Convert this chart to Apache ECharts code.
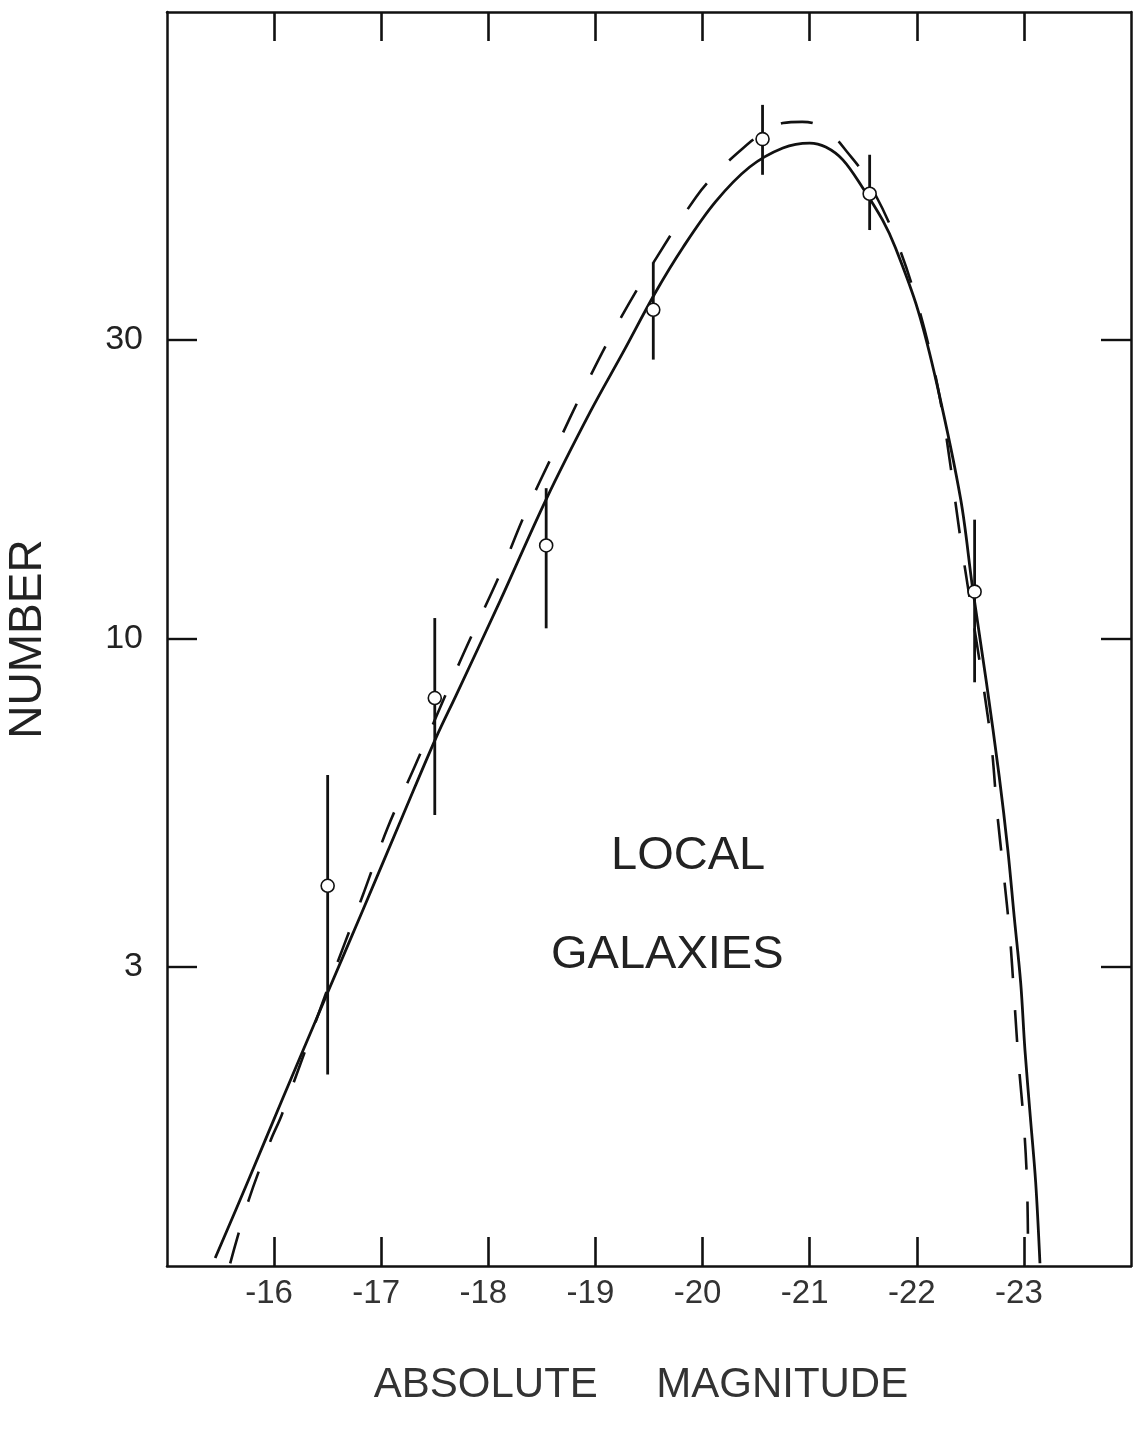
<!DOCTYPE html>
<html>
<head>
<meta charset="utf-8">
<title>Local Galaxies – luminosity function</title>
<script src="https://cdn.jsdelivr.net/npm/echarts@6/dist/echarts.min.js"></script>
<style>
  html, body { margin: 0; padding: 0; background: #fff; }
  #chart { width: 1134px; height: 1430px; }
</style>
</head>
<body>
<div id="chart"></div>
<script>
// Tick positions
const magTicks = [-16, -17, -18, -19, -20, -21, -22, -23];
const numberTicks = [3, 10, 30];

// Smooth fitted curve (solid)
const solidMag = [-15.45, -15.76, -16.08, -16.48, -16.83, -17.20, -17.51, -17.70, -18.11, -18.54,
  -18.95, -19.26, -19.56, -19.82, -20.12, -20.44, -20.75, -21.00, -21.15, -21.31,
  -21.49, -21.68, -21.80, -22.01, -22.19, -22.41, -22.52, -22.65, -22.77, -22.85,
  -22.91, -22.97, -23.01, -23.06, -23.11, -23.15];
const solidNum = [1.03, 1.37, 1.85, 2.68, 3.70, 5.22, 6.95, 8.14, 11.5, 16.7,
  23.0, 28.7, 35.7, 42.2, 49.8, 56.6, 60.7, 61.8, 60.9, 58.1,
  52.6, 46.6, 42.1, 33.5, 25.4, 16.7, 12.1, 8.53, 6.03, 4.61,
  3.60, 2.83, 2.21, 1.73, 1.36, 1.01];

// Alternative curve (dashed)
const dashMag = [-15.59, -15.76, -15.97, -16.07, -16.48, -16.83, -17.06, -17.32, -17.70, -17.83,
  -18.11, -18.34, -18.62, -18.90, -19.21, -19.54, -19.94, -20.14, -20.38, -20.56,
  -20.75, -20.93, -21.06, -21.21, -21.35, -21.51, -21.77, -22.01, -22.22, -22.42,
  -22.62, -22.70, -22.75, -22.81, -22.87, -22.91, -22.95, -23.00, -23.03, -23.04];
const dashNum = [1.01, 1.27, 1.59, 1.74, 2.71, 3.91, 5.00, 6.30, 8.92, 10.0,
  12.7, 15.8, 20.0, 25.2, 31.9, 39.8, 50.7, 55.6, 60.7, 64.1,
  66.5, 66.8, 66.2, 63.7, 59.8, 55.0, 44.9, 34.1, 24.0, 14.0,
  8.45, 6.70, 5.30, 4.24, 3.35, 2.67, 2.12, 1.68, 1.34, 1.00];

// Observed counts with error ranges
const pointMag = [-16.5, -17.5, -18.54, -19.54, -20.56, -21.56, -22.54];
const pointNum = [4.04, 8.05, 14.1, 33.5, 62.7, 51.3, 11.9];
const errLow   = [2.02, 5.24, 10.4, 27.9, 55.0, 44.9, 8.53];
const errHigh  = [6.07, 10.8, 17.4, 39.9, 71.1, 59.2, 15.5];

const ink = '#111';
const font = '"Liberation Sans", "DejaVu Sans", sans-serif';

function xAxisDef(pos, withLabels) {
  return {
    type: 'value', min: -24, max: -15, interval: 1, inverse: true, position: pos,
    name: withLabels ? 'ABSOLUTE     MAGNITUDE' : '',
    nameLocation: 'middle', nameGap: 98,
    nameTextStyle: { fontSize: 42, color: '#333', fontFamily: font, padding: [0, 16, 0, 0] },
    axisLine: { show: true, onZero: false, lineStyle: { color: ink, width: 2.5 } },
    axisTick: { show: true, inside: true, length: 29, customValues: magTicks,
      lineStyle: { color: ink, width: 2.6 } },
    axisLabel: { show: withLabels, customValues: magTicks, margin: 11, fontSize: 33,
      color: '#333', fontFamily: font, padding: [0, 10, 0, 0], formatter: v => String(v) },
    splitLine: { show: false }
  };
}

function yAxisDef(pos, withLabels) {
  return {
    type: 'log', logBase: 10, min: 1, max: 100, position: pos,
    name: withLabels ? 'NUMBER' : '',
    nameLocation: 'middle', nameGap: 116, nameRotate: 90,
    nameTextStyle: { fontSize: 46, color: '#222', fontFamily: font },
    axisLine: { show: true, onZero: false, lineStyle: { color: ink, width: 2.5 } },
    axisTick: { show: true, inside: true, length: 30, customValues: numberTicks,
      lineStyle: { color: ink, width: 2.4 } },
    axisLabel: { show: withLabels, customValues: numberTicks, margin: 24, fontSize: 34,
      color: '#222', fontFamily: font, formatter: v => String(v) },
    splitLine: { show: false },
    minorTick: { show: false }
  };
}

const chart = echarts.init(document.getElementById('chart'), null, { renderer: 'canvas' });

chart.setOption({
  animation: false,
  backgroundColor: '#fff',
  grid: { left: 167, right: 3, top: 12, bottom: 164, containLabel: false, outerBoundsMode: 'none' },
  xAxis: [xAxisDef('bottom', true), xAxisDef('top', false)],
  yAxis: [yAxisDef('left', true), yAxisDef('right', false)],
  graphic: [
    { type: 'text', x: 611, y: 856,
      style: { text: 'LOCAL', fontSize: 47, fill: '#222', fontFamily: font, verticalAlign: 'middle' } },
    { type: 'text', x: 551, y: 955,
      style: { text: 'GALAXIES', fontSize: 47, fill: '#222', fontFamily: font, verticalAlign: 'middle' } }
  ],
  series: [
    {
      name: 'fit', type: 'line', xAxisIndex: 0, yAxisIndex: 0,
      data: solidMag.map((m, i) => [m, solidNum[i]]),
      showSymbol: false, smooth: 0.35,
      lineStyle: { color: ink, width: 2.8 }, z: 3
    },
    {
      name: 'alt', type: 'line', xAxisIndex: 0, yAxisIndex: 0,
      data: dashMag.map((m, i) => [m, dashNum[i]]),
      showSymbol: false, smooth: 0.35,
      lineStyle: { color: ink, width: 2.6, type: [32, 32] }, z: 3
    },
    {
      name: 'errors', type: 'custom', xAxisIndex: 0, yAxisIndex: 0,
      data: pointMag.map((m, i) => [m, errLow[i], errHigh[i]]),
      encode: { x: 0, y: [1, 2] },
      renderItem: (params, api) => {
        const m = api.value(0);
        const lo = api.coord([m, api.value(1)]);
        const hi = api.coord([m, api.value(2)]);
        return { type: 'line', shape: { x1: lo[0], y1: lo[1], x2: hi[0], y2: hi[1] },
          style: { stroke: ink, lineWidth: 2.8 } };
      },
      z: 4
    },
    {
      name: 'counts', type: 'scatter', xAxisIndex: 0, yAxisIndex: 0,
      data: pointMag.map((m, i) => [m, pointNum[i]]),
      symbol: 'circle', symbolSize: 13,
      itemStyle: { color: '#fff', borderColor: ink, borderWidth: 1.6, opacity: 1 },
      z: 5
    }
  ]
});
</script>
</body>
</html>
